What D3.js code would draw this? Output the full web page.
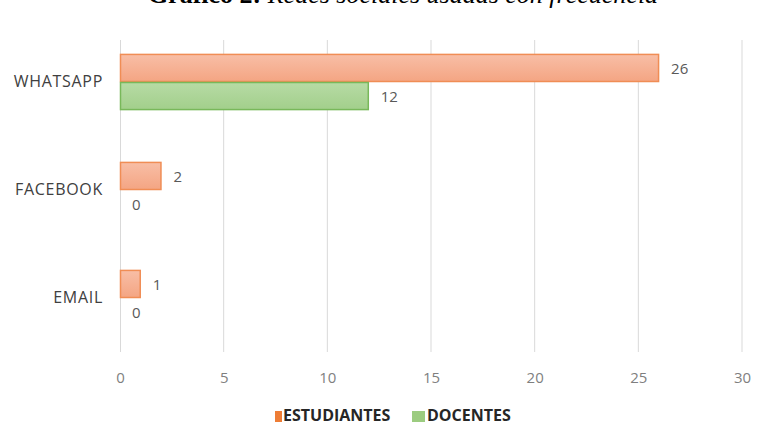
<!DOCTYPE html>
<html>
<head>
<meta charset="utf-8">
<script src="https://cdn.jsdelivr.net/npm/d3@7"></script>
<style>
  body { margin: 0; background: #fff; }
  svg { display: block; }
</style>
</head>
<body>
<div id="chart"></div>
<script>
// data
const categories = ["WHATSAPP", "FACEBOOK", "EMAIL"];
const seriesNames = ["ESTUDIANTES", "DOCENTES"];
const estudiantes = [26, 2, 1];
const docentes = [12, 0, 0];
const xTicks = [0, 5, 10, 15, 20, 25, 30];

const W = 765, H = 426;
const margin = {left: 120, right: 23, top: 28, bottom: 74};
const sans = "'Open Sans', 'Liberation Sans', sans-serif";

const svg = d3.select("#chart").append("svg").attr("width", W).attr("height", H);
const defs = svg.append("defs");

//gradients for the bars
function addGrad(id, c1, c2) {
  const g = defs.append("linearGradient").attr("id", id)
    .attr("x1", "0%").attr("y1", "0%").attr("x2", "0%").attr("y2", "100%");
  g.append("stop").attr("offset", "0%").attr("stop-color", c1);
  g.append("stop").attr("offset", "100%").attr("stop-color", c2);
}
addGrad("gEst", "#f8bea6", "#f4a583");
addGrad("gDoc", "#b7dba5", "#a2cf8b");

const fills = ["url(#gEst)", "url(#gDoc)"];
const strokes = ["#f08d55", "#78b85a"];
const legendColors = ["#ee7d36", "#9ccc80"];

const x = d3.scaleLinear().domain([0, 30]).range([margin.left, W - margin.right]);
const y = d3.scaleBand().domain(categories).range([margin.top, H - margin.bottom]).paddingInner(0.48).paddingOuter(0.24);
const inner = d3.scaleBand().domain(seriesNames).range([0, y.bandwidth()]);

//title (cut off at top like the original)
const title = svg.append("text").attr("x", 403).attr("y", 3).attr("text-anchor", "middle")
  .style("font-family", "'Liberation Serif', 'DejaVu Serif', serif").style("font-size", "26px").attr("fill", "#000");
title.append("tspan").style("font-weight", "bold").text("Gráfico 2: ");
title.append("tspan").style("font-style", "italic").text("Redes sociales usadas con frecuencia");

//gridlines
svg.append("g").selectAll("line").data(xTicks.slice(1)).join("line")
  .attr("x1", d => x(d)).attr("x2", d => x(d))
  .attr("y1", 40).attr("y2", 352)
  .attr("stroke", "#d9d9d9").attr("stroke-width", 1);

//x axis labels
const xAxis = svg.append("g").attr("transform", `translate(0,${352})`)
  .call(d3.axisBottom(x).tickValues(xTicks).tickSize(0).tickPadding(20));
xAxis.select(".domain").remove();
xAxis.selectAll("text").attr("fill", "#7f7f7f")
  .style("font-family", sans).style("font-size", "15px");

//y axis
const yAxis = svg.append("g").attr("transform", `translate(${margin.left},0)`)
  .call(d3.axisLeft(y).tickSize(0).tickPadding(17));
yAxis.select(".domain").attr("stroke", "#d9d9d9").attr("d", `M0.5,40V352`);
yAxis.selectAll("text").attr("fill", "#404040")
  .style("font-family", sans).style("font-size", "16px").style("letter-spacing", "0.7px");

const series = [estudiantes, docentes];
series.forEach((vals, s) => {
  const g = svg.append("g");
  const rows = categories.map((c, i) => ({c, v: vals[i]}));
  g.selectAll("rect").data(rows.filter(d => d.v > 0)).join("rect")
    .attr("x", x(0) + 0.5)
    .attr("y", d => y(d.c) + inner(seriesNames[s]) + 0.5)
    .attr("width", d => x(d.v) - x(0) - 1)
    .attr("height", inner.bandwidth() - 1)
    .attr("fill", fills[s]).attr("stroke", strokes[s]).attr("stroke-width", 1.5);
  g.selectAll("text").data(rows).join("text")
    .attr("x", d => x(d.v) + 12)
    .attr("y", d => y(d.c) + inner(seriesNames[s]) + inner.bandwidth() / 2 + 6)
    .attr("fill", "#595959")
    .style("font-family", sans).style("font-size", "15px")
    .text(d => d.v);
});

//legend
const legend = svg.append("g").attr("transform", "translate(0,421)");
const legSq = [{x: 275, w: 7}, {x: 412, w: 13}];
const legTx = [283, 427];
seriesNames.forEach((n, i) => {
  legend.append("rect").attr("x", legSq[i].x).attr("y", -10).attr("width", legSq[i].w).attr("height", 11)
    .attr("fill", legendColors[i]);
  legend.append("text").attr("x", legTx[i]).attr("y", 0)
    .attr("fill", "#262626").style("font-weight", "bold")
    .style("font-family", sans).style("font-size", "16px")
    .text(n);
});
</script>
</body>
</html>
